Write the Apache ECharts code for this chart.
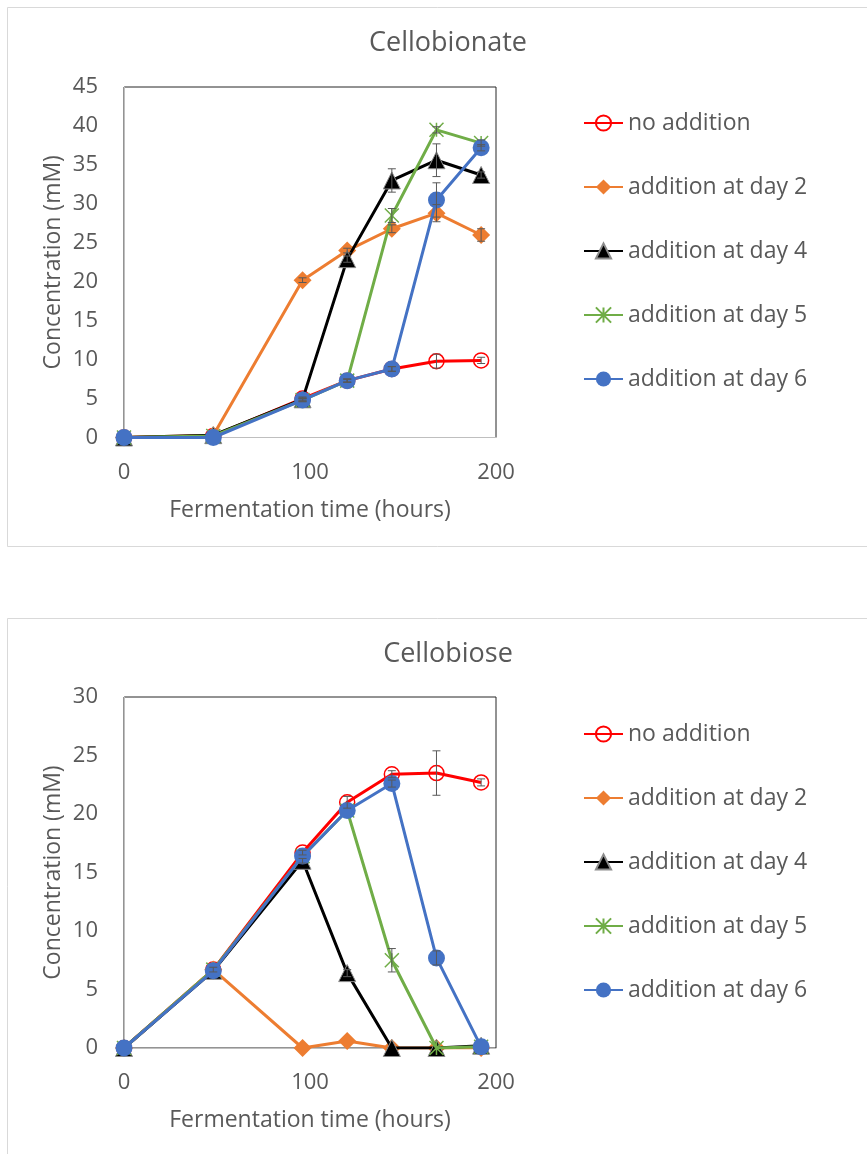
<!DOCTYPE html>
<html><head><meta charset="utf-8">
<script src="https://cdn.jsdelivr.net/npm/echarts@6/dist/echarts.min.js"></script>
<style>html,body{margin:0;padding:0;background:#fff}#c{width:867px;height:1154px}</style>
</head><body><div id="c"></div>
<script>
// ---- data ----
const hours = [0, 48, 96, 120, 144, 168, 192];
const seriesNames = ['no addition', 'addition at day 2', 'addition at day 4', 'addition at day 5', 'addition at day 6'];
// Cellobionate (mM)
const cbnNo = [0, 0.2, 5.0, 7.3, 8.8, 9.8, 9.9];
const cbnD2 = [0, 0.3, 20.2, 24.0, 26.8, 28.8, 26.0];
const cbnD4 = [0, 0.3, 4.9, 22.9, 33.0, 35.6, 33.7];
const cbnD5 = [0, 0.2, 4.8, 7.3, 28.5, 39.5, 37.8];
const cbnD6 = [0, 0.0, 4.8, 7.3, 8.8, 30.5, 37.2];
const cbnNoErr = [0, 0, 0.2, 0.2, 0.3, 0.9, 0.4];
const cbnD2Err = [0, 0, 0.3, 0.3, 0.5, 1.1, 0.8];
const cbnD4Err = [0, 0, 0.2, 0.4, 1.5, 2.1, 0.4];
const cbnD5Err = [0, 0, 0.2, 0.2, 0.9, 0.4, 0.4];
const cbnD6Err = [0, 0, 0.2, 0.2, 0.3, 2.2, 0.4];
// Cellobiose (mM)
const cbsNo = [0, 6.7, 16.7, 21.0, 23.4, 23.5, 22.7];
const cbsD2 = [0, 6.7, 0.0, 0.6, 0.0, 0.0, 0.0];
const cbsD4 = [0, 6.6, 16.0, 6.4, 0.0, 0.0, 0.2];
const cbsD5 = [0, 6.7, 16.4, 20.3, 7.5, 0.0, 0.1];
const cbsD6 = [0, 6.6, 16.4, 20.3, 22.6, 7.7, 0.1];
const cbsNoErr = [0, 0.2, 0.2, 0.5, 0.3, 1.9, 0.3];
const cbsD2Err = [0, 0, 0, 0, 0, 0, 0];
const cbsD4Err = [0, 0, 0.2, 0.3, 0, 0, 0];
const cbsD5Err = [0, 0, 0, 0, 1.0, 0, 0];
const cbsD6Err = [0, 0, 0, 0, 0.3, 0.6, 0];
// ticks
const xTicks = {min: 0, max: 200, interval: 100};
const yTicksTop = {min: 0, max: 45, interval: 5};
const yTicksBottom = {min: 0, max: 30, interval: 5};
const titles = ['Cellobionate', 'Cellobiose'];

// ---- styling ----
const FONT = '"Open Sans", sans-serif';
const TXT = '#595959';
const colors = ['#FF0000', '#ED7D31', '#000000', '#70AD47', '#4472C4'];
const star = 'path://M0,0L20,20M0,20L20,0M10,0L10,20';
const markerStyles = [
  {symbol: 'circle', symbolSize: 15, itemStyle: {color: 'rgba(255,255,255,0)', borderColor: '#FF0000', borderWidth: 1.5}},
  {symbol: 'diamond', symbolSize: 18, itemStyle: {color: '#ED7D31'}},
  {symbol: 'triangle', symbolSize: 17, itemStyle: {color: '#000000', borderColor: '#8c8c8c', borderWidth: 1}},
  {symbol: star, symbolSize: 14, itemStyle: {color: '#70AD47', borderColor: '#70AD47', borderWidth: 1.5}},
  {symbol: 'circle', symbolSize: 17, itemStyle: {color: '#4472C4'}}
];

const grids = [
  {left: 124, top: 87, width: 372, height: 350.5, show: true, borderColor: '#262626', borderWidth: 1},
  {left: 124, top: 697, width: 372, height: 351, show: true, borderColor: '#262626', borderWidth: 1}
];

function xAxis(gi) {
  return {
    type: 'value', gridIndex: gi, min: xTicks.min, max: xTicks.max, interval: xTicks.interval,
    name: 'Fermentation time (hours)', nameLocation: 'middle', nameGap: 61,
    nameTextStyle: {fontFamily: FONT, fontSize: 23, color: TXT},
    axisLine: {show: true, lineStyle: {color: '#bfbfbf', width: 1}},
    axisTick: {show: false}, splitLine: {show: false},
    axisLabel: {fontFamily: FONT, fontSize: 22, color: TXT, margin: 24}
  };
}
function yAxis(gi, t) {
  return {
    type: 'value', gridIndex: gi, min: t.min, max: t.max, interval: t.interval,
    name: 'Concentration (mM)', nameLocation: 'middle', nameGap: 59,
    nameTextStyle: {fontFamily: FONT, fontSize: 23, color: TXT},
    axisLine: {show: true, lineStyle: {color: '#bfbfbf', width: 1}},
    axisTick: {show: false}, splitLine: {show: false},
    axisLabel: {fontFamily: FONT, fontSize: 22, color: TXT, margin: 26}
  };
}

function lineSeries(gi, i, vals) {
  const m = markerStyles[i];
  return {
    type: 'line', name: seriesNames[i], xAxisIndex: gi, yAxisIndex: gi,
    data: hours.map((h, k) => [h, vals[k]]),
    symbol: m.symbol, symbolSize: m.symbolSize, itemStyle: m.itemStyle,
    lineStyle: {color: colors[i], width: 3}, color: colors[i],
    showAllSymbol: true, z: 2 + i, animation: false
  };
}
function errSeries(gi, vals, errs) {
  const data = [];
  hours.forEach((h, k) => { if (errs[k] > 0) data.push([h, vals[k], errs[k]]); });
  return {
    type: 'custom', xAxisIndex: gi, yAxisIndex: gi, z: 20, silent: true, animation: false,
    data: data,
    renderItem: function (params, api) {
      const x = api.value(0), y = api.value(1), e = api.value(2);
      const hi = api.coord([x, y + e]), lo = api.coord([x, y - e]);
      const c = 4;
      const st = {stroke: '#595959', lineWidth: 1};
      return {type: 'group', children: [
        {type: 'line', shape: {x1: hi[0], y1: hi[1], x2: lo[0], y2: lo[1]}, style: st},
        {type: 'line', shape: {x1: hi[0] - c, y1: hi[1], x2: hi[0] + c, y2: hi[1]}, style: st},
        {type: 'line', shape: {x1: lo[0] - c, y1: lo[1], x2: lo[0] + c, y2: lo[1]}, style: st}
      ]};
    }
  };
}

const topVals = [cbnNo, cbnD2, cbnD4, cbnD5, cbnD6];
const topErrs = [cbnNoErr, cbnD2Err, cbnD4Err, cbnD5Err, cbnD6Err];
const botVals = [cbsNo, cbsD2, cbsD4, cbsD5, cbsD6];
const botErrs = [cbsNoErr, cbsD2Err, cbsD4Err, cbsD5Err, cbsD6Err];

const series = [];
topVals.forEach((v, i) => series.push(lineSeries(0, i, v)));
botVals.forEach((v, i) => series.push(lineSeries(1, i, v)));
topVals.forEach((v, i) => series.push(errSeries(0, v, topErrs[i])));
botVals.forEach((v, i) => series.push(errSeries(1, v, botErrs[i])));

function legend(top) {
  return {
    data: seriesNames, orient: 'vertical', left: 583, top: top, padding: 0,
    itemWidth: 39, itemHeight: 19, itemGap: 40,
    textStyle: {fontFamily: FONT, fontSize: 23, color: TXT, lineHeight: 24},
    selectedMode: false
  };
}

const chart = echarts.init(document.getElementById('c'), null, {renderer: 'canvas'});
chart.setOption({
  animation: false,
  backgroundColor: '#ffffff',
  graphic: [
    {type: 'rect', shape: {x: 7.5, y: 7.5, width: 880, height: 539}, style: {fill: '#fff', stroke: '#d9d9d9', lineWidth: 1}, z: -10},
    {type: 'rect', shape: {x: 7.5, y: 618.5, width: 880, height: 560}, style: {fill: '#fff', stroke: '#d9d9d9', lineWidth: 1}, z: -10}
  ],
  title: [
    {text: titles[0], left: 443, top: 25, textAlign: 'center', textStyle: {fontFamily: FONT, fontSize: 27, fontWeight: 'normal', color: TXT}},
    {text: titles[1], left: 443, top: 636, textAlign: 'center', textStyle: {fontFamily: FONT, fontSize: 27, fontWeight: 'normal', color: TXT}}
  ],
  legend: [legend(111), legend(722)],
  grid: grids,
  xAxis: [xAxis(0), xAxis(1)],
  yAxis: [yAxis(0, yTicksTop), yAxis(1, yTicksBottom)],
  series: series
});
</script></body></html>
